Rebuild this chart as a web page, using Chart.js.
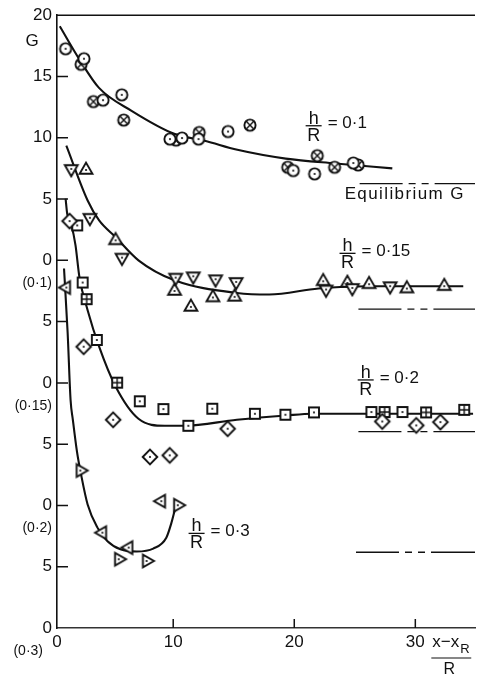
<!DOCTYPE html>
<html>
<head>
<meta charset="utf-8">
<script src="https://cdn.jsdelivr.net/npm/chart.js@4.4.0/dist/chart.umd.min.js"></script>
<style>
  html, body { margin: 0; padding: 0; background: #fff; }
  #wrap { width: 482px; height: 674px; }
</style>
</head>
<body>
<div id="wrap"><canvas id="chart" width="482" height="674"></canvas></div>
<script>
// axis ticks (y is one stacked scale: each h/R panel has its own zero)
const xTicks = [0, 10, 20, 30];
const yTicks = [0, 5, 10, 15, 20, 25, 30, 35, 40, 45, 50];
const yTickLabels = ['0', '5', '0', '5', '0', '5', '0', '5', '10', '15', '20'];

const ratioLabels = ['0·1', '0·15', '0·2', '0·3'];
const offsets = [30, 20, 10, 0];
const equilibriumG = [6.26, 6.02, 6.02, 6.18];
const equilibriumFrom = [25.4, 25.3, 25.3, 25.1];

// h/R = 0.1  ([x, G])
const fit01 = [[0.63, 19.1], [2.25, 16.4], [3.87, 14.07], [6.56, 12.2], [10.14, 10.3], [12.6, 9.76], [15.3, 9.02], [19.3, 8.3], [23.4, 7.9], [28.1, 7.5]];
const circleDot01 = [[1.11, 17.26], [2.63, 16.45], [4.2, 13.07], [5.75, 13.5], [9.73, 9.89], [10.73, 9.98], [12.09, 9.89], [14.53, 10.51], [19.92, 7.32], [21.68, 7.05], [24.88, 7.94]];
const circleCross01 = [[2.39, 15.99], [3.41, 12.95], [5.91, 11.44], [10.24, 9.81], [12.15, 10.43], [16.34, 11.03], [19.46, 7.59], [21.9, 8.54], [23.33, 7.59], [25.28, 7.78]];

// h/R = 0.15
const fit015 = [[1.17, 19.35], [2.93, 14.88], [3.88, 13.25], [5.24, 11.89], [7.13, 10.0], [10.11, 8.37], [15.26, 7.34], [17.94, 7.21], [22.0, 7.7], [26.07, 7.89], [33.96, 7.89]];
const triDown015 = [[1.58, 17.46], [3.12, 13.47], [5.77, 10.22], [10.2, 8.59], [11.66, 8.7], [13.5, 8.46], [15.2, 8.24], [22.63, 7.62], [24.8, 7.75], [27.92, 7.89]];
const triUp015 = [[2.8, 17.37], [5.24, 11.63], [10.11, 7.5], [11.46, 6.2], [13.28, 6.97], [15.07, 7.02], [22.39, 8.29], [24.39, 8.15], [26.18, 8.05], [29.3, 7.7], [32.39, 7.89]];

// h/R = 0.2
const fit02 = [[1.11, 25.04], [1.24, 23.82], [1.58, 22.93], [1.93, 21.22], [2.25, 18.64], [2.93, 15.93], [3.88, 12.95], [5.24, 9.7], [7.13, 7.07], [9.3, 6.5], [10.93, 6.5], [15.26, 6.99], [19.33, 7.34], [21.5, 7.48], [34.77, 7.48]];
const diamond02 = [[1.44, 23.2], [2.6, 12.95], [5.04, 6.99], [8.08, 3.96], [9.71, 4.09], [14.5, 6.26], [27.27, 6.85], [30.08, 6.53], [32.07, 6.8]];
const squareDot02 = [[2.07, 22.85], [2.52, 18.19], [3.69, 13.5], [7.24, 8.5], [9.19, 7.86], [11.25, 6.5], [13.23, 7.89], [16.75, 7.48], [19.27, 7.4], [21.63, 7.59], [26.37, 7.62], [28.94, 7.62]];
const squareCross02 = [[2.85, 16.83], [5.37, 10.02], [27.46, 7.62], [30.89, 7.59], [34.04, 7.8]];

// h/R = 0.3
const fit03 = [[0.98, 29.33], [1.28, 24.07], [1.52, 18.62], [1.71, 16.99], [2.05, 14.39], [2.39, 12.52], [2.93, 10.08], [3.74, 8.19], [4.55, 7.1], [5.64, 6.42], [6.99, 6.24], [8.35, 6.48], [9.43, 7.37], [9.84, 8.54], [10.14, 9.67]];
const triLeft03 = [[1.17, 27.78], [4.15, 7.78], [6.32, 6.56], [9.02, 10.35]];
const triRight03 = [[2.33, 12.85], [5.5, 5.61], [7.8, 5.47], [10.38, 10.02]];

const FONT = '"Liberation Sans", Arial, sans-serif';
const INK = '#111';
const xMin = 0.4, xMax = 34.93;

function pts(arr, off) {
    return arr.map(([x, g]) => ({ x: x, y: g + off }));
}

// hollow markers with a dot / cross inside, drawn once into small canvases
function makeMarker(kind) {
    const s = 20, c = s / 2;
    const cv = document.createElement('canvas');
    cv.width = s; cv.height = s;
    const g = cv.getContext('2d');
    g.lineWidth = 1.9;
    g.strokeStyle = INK;
    g.fillStyle = '#fff';
    g.beginPath();
    if (kind.startsWith('circle')) {
        g.arc(c, c, 5.6, 0, Math.PI * 2);
    } else if (kind.startsWith('square')) {
        g.rect(c - 5, c - 5, 10, 10);
    } else if (kind === 'diamond') {
        g.moveTo(c, c - 7.3); g.lineTo(c + 7.3, c); g.lineTo(c, c + 7.3); g.lineTo(c - 7.3, c); g.closePath();
    } else {
        const a0 = { triUp: -90, triDown: 90, triLeft: 180, triRight: 0 }[kind] * Math.PI / 180;
        for (let k = 0; k < 3; k++) {
            const a = a0 + k * 2 * Math.PI / 3;
            const px = c + 7.4 * Math.cos(a), py = c + 7.4 * Math.sin(a);
            if (k === 0) g.moveTo(px, py); else g.lineTo(px, py);
        }
        g.closePath();
    }
    g.fill();
    g.stroke();
    g.lineWidth = 1.4;
    if (kind === 'circleCross') {
        const d = 5.6 * Math.SQRT1_2;
        g.beginPath();
        g.moveTo(c - d, c - d); g.lineTo(c + d, c + d);
        g.moveTo(c + d, c - d); g.lineTo(c - d, c + d);
        g.stroke();
    } else if (kind === 'squareCross') {
        g.beginPath();
        g.moveTo(c, c - 5); g.lineTo(c, c + 5);
        g.moveTo(c - 5, c); g.lineTo(c + 5, c);
        g.stroke();
    } else {
        g.fillStyle = INK;
        g.beginPath();
        g.arc(c, c, 1.1, 0, Math.PI * 2);
        g.fill();
    }
    return cv;
}

const fits = [[fit01, 30], [fit015, 20], [fit02, 10], [fit03, 0]];
const markerSets = [
    [circleDot01, 30, 'circleDot'], [circleCross01, 30, 'circleCross'],
    [triDown015, 20, 'triDown'], [triUp015, 20, 'triUp'],
    [diamond02, 10, 'diamond'], [squareDot02, 10, 'squareDot'], [squareCross02, 10, 'squareCross'],
    [triLeft03, 0, 'triLeft'], [triRight03, 0, 'triRight']
];

const datasets = [];
markerSets.forEach(([arr, off, kind]) => {
    datasets.push({
        data: pts(arr, off),
        showLine: false,
        pointStyle: makeMarker(kind),
        pointRadius: 6,
        order: 0,
        clip: false
    });
});
fits.forEach(([arr, off]) => {
    datasets.push({
        data: pts(arr, off),
        borderColor: INK,
        borderWidth: 2.1,
        pointRadius: 0,
        cubicInterpolationMode: 'monotone',
        fill: false,
        order: 1
    });
});
equilibriumG.forEach((g, i) => {
    datasets.push({
        data: [{ x: equilibriumFrom[i], y: g + offsets[i] }, { x: xMax, y: g + offsets[i] }],
        borderColor: INK,
        borderWidth: 1.4,
        borderDash: [43, 6, 7, 6, 7, 6, 200],
        pointRadius: 0,
        fill: false,
        order: 2
    });
});

// labels "h/R = ..." : fraction centre in (x, G) of each panel
const ratioTextAt = [[21.6, 10.98], [24.4, 10.57], [25.9, 10.24], [11.93, 7.72]];

const decor = {
    id: 'decor',
    afterDraw(chart) {
        const { ctx, chartArea: a, scales: { x, y } } = chart;
        ctx.save();
        ctx.strokeStyle = INK;
        ctx.lineWidth = 1.5;
        ctx.beginPath();
        ctx.moveTo(a.left, a.top);
        ctx.lineTo(a.right, a.top);
        // inward tick marks
        yTicks.forEach(v => {
            if (v > 0 && v < 50) {
                const py = y.getPixelForValue(v);
                ctx.moveTo(a.left, py);
                ctx.lineTo(a.left + 11, py);
            }
        });
        xTicks.forEach(v => {
            if (v > 0) {
                const px = x.getPixelForValue(v);
                ctx.moveTo(px, a.bottom);
                ctx.lineTo(px, a.bottom - 9);
            }
        });
        ctx.stroke();

        ctx.fillStyle = INK;
        ctx.textBaseline = 'middle';
        ctx.textAlign = 'center';
        ctx.font = '17px ' + FONT;
        ctx.fillText('G', a.left - 25, a.top + 26);

        // panel zero labels
        ctx.font = '14px ' + FONT;
        ctx.textAlign = 'right';
        ratioLabels.forEach((r, i) => {
            const rx = i === ratioLabels.length - 1 ? a.left - 14 : a.left - 5;
            ctx.fillText('(' + r + ')', rx, y.getPixelForValue(offsets[i]) + 23);
        });

        // h/R = ... labels
        ratioLabels.forEach((r, i) => {
            const cx = x.getPixelForValue(ratioTextAt[i][0]);
            const cy = y.getPixelForValue(ratioTextAt[i][1] + offsets[i]);
            ctx.font = '18px ' + FONT;
            ctx.textAlign = 'center';
            ctx.textBaseline = 'alphabetic';
            ctx.fillText('h', cx, cy - 2);
            ctx.textBaseline = 'top';
            ctx.fillText('R', cx, cy + 1);
            ctx.beginPath();
            ctx.lineWidth = 1.3;
            ctx.moveTo(cx - 8, cy);
            ctx.lineTo(cx + 8, cy);
            ctx.stroke();
            ctx.font = '17px ' + FONT;
            ctx.textAlign = 'left';
            ctx.textBaseline = 'middle';
            ctx.fillText('= ' + r, cx + 14, cy - 2);
        });

        // equilibrium label
        ctx.font = '17px ' + FONT;
        ctx.textAlign = 'left';
        ctx.textBaseline = 'middle';
        if ('letterSpacing' in ctx) ctx.letterSpacing = '1.4px';
        ctx.fillText('Equilibrium G', x.getPixelForValue(equilibriumFrom[0]) - 15,
            y.getPixelForValue(equilibriumG[0] + offsets[0]) + 11);
        if ('letterSpacing' in ctx) ctx.letterSpacing = '0px';

        // x title  (x - x_R) / R
        const tx = x.getPixelForValue(30) + 17;
        ctx.textBaseline = 'alphabetic';
        ctx.font = '17px ' + FONT;
        ctx.fillText('x−x', tx, a.bottom + 19);
        const w = ctx.measureText('x−x').width;
        ctx.font = '13px ' + FONT;
        ctx.fillText('R', tx + w + 1, a.bottom + 25);
        ctx.beginPath();
        ctx.lineWidth = 1.2;
        ctx.moveTo(tx - 1, a.bottom + 30);
        ctx.lineTo(tx + w + 12, a.bottom + 30);
        ctx.stroke();
        ctx.font = '16px ' + FONT;
        ctx.textAlign = 'center';
        ctx.textBaseline = 'middle';
        ctx.fillText('R', tx + 17, a.bottom + 42);
        ctx.restore();
    }
};

new Chart(document.getElementById('chart'), {
    type: 'line',
    data: { datasets: datasets },
    options: {
        responsive: false,
        devicePixelRatio: 1,
        animation: false,
        layout: { padding: { top: 14, right: 0, left: 0, bottom: 0 } },
        plugins: { legend: { display: false }, tooltip: { enabled: false } },
        scales: {
            x: {
                type: 'linear',
                min: xMin,
                max: xMax,
                afterBuildTicks: s => { s.ticks = xTicks.map(v => ({ value: Math.max(v, xMin) })); },
                afterFit: s => { s.height = 46; },
                ticks: {
                    autoSkip: false,
                    maxRotation: 0,
                    padding: 4,
                    color: INK,
                    font: { family: FONT, size: 17 },
                    callback: (v, i) => String(xTicks[i])
                },
                grid: { display: false, drawTicks: false },
                border: { display: true, color: '#333', width: 1.5 }
            },
            y: {
                type: 'linear',
                min: 0,
                max: 50,
                afterBuildTicks: s => { s.ticks = yTicks.map(v => ({ value: v })); },
                afterFit: s => { s.width = 57; },
                ticks: {
                    autoSkip: false,
                    padding: 5,
                    color: INK,
                    font: { family: FONT, size: 17 },
                    callback: (v, i) => yTickLabels[i]
                },
                grid: { display: false, drawTicks: false },
                border: { display: true, color: INK, width: 1.6 }
            }
        }
    },
    plugins: [decor]
});
</script>
</body>
</html>
